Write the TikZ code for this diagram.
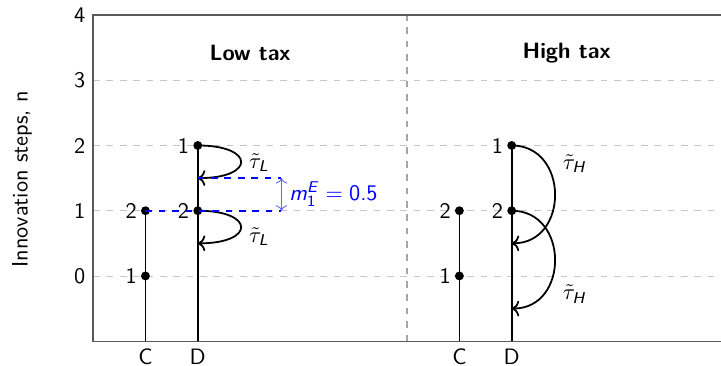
\documentclass[tikz,border=0pt]{standalone}
\usepackage{amsmath}
\usepackage{xcolor}
\usepackage{tikz}
\usetikzlibrary{arrows.meta, positioning, calc}
\newcommand{\sfit}[1]{\textsf{\textit{#1}}}

\begin{document}
\sffamily
\begin{tikzpicture}[x=23.5pt, y=29.3pt,
    dot/.style={circle, fill=black, inner sep=0pt, minimum size=4pt},
    gridline/.style={gray!45, dashed},
    frameline/.style={black!65, semithick},
    stem/.style={line width=0.8pt},
    jump/.style={line width=0.8pt, ->},
    ticklabel/.style={inner sep=1.5pt}]
    \useasboundingbox (-1.78,-1.38) rectangle (12,4.23);

    % Grid and frame
    \foreach \n in {0,...,3}
        \draw[gridline] (0,\n) -- (12,\n);
    \draw[gray!70, dashed, semithick] (6,-1) -- (6,4);
    \draw[frameline] (12,4) -- (0,4) -- (0,-1) -- (12,-1);

    % Axis labels
    \foreach \n in {0,...,4}
        \node[anchor=east] (tick\n) at (0,\n) {\n};
    \node[rotate=90] (ylab) at (-1.36,1.48) {Innovation steps, n};
    \foreach \xpos/\lab/\nm in {1/C/lc, 2/D/ld, 7/C/hc, 8/D/hd}
        \node (\nm lab) at (\xpos,-1.24) {\lab};

    % Panel titles
    \node[font=\bfseries] (lowtitle) at (3,3.42) {Low tax};
    \node[font=\bfseries] (hightitle) at (9.05,3.42) {High tax};

    % Low tax
    \coordinate (lcbot) at (1,-1);
    \coordinate (ldbot) at (2,-1);
    \node[dot] (lc0) at (1,0) {};
    \node[dot] (lc1) at (1,1) {};
    \node[dot] (ld1) at (2,1) {};
    \node[dot] (ld2) at (2,2) {};
    \draw[stem] (lcbot) -- (lc1.center);
    \draw[stem] (ldbot) -- (ld2.center);
    \node[ticklabel, left=0pt of lc0] (lc0l) {1};
    \node[ticklabel, left=0pt of lc1] (lc1l) {2};
    \node[ticklabel, left=0pt of ld1] (ld1l) {2};
    \node[ticklabel, left=0pt of ld2] (ld2l) {1};

    \coordinate (la) at (2,1.5);
    \coordinate (lb) at (2,0.5);
    \draw[jump] (ld2.center) .. controls (3.1,2) and (3.1,1.5) .. (la);
    \draw[jump] (ld1.center) .. controls (3.1,1) and (3.1,0.5) .. (lb);
    \node (taul1) at (3.17,1.74) {$\tilde{\tau}_{\sfit{L}}$};
    \node (taul2) at (3.17,0.6) {$\tilde{\tau}_{\sfit{L}}$};

    % Distance m
    \coordinate (ma) at (3.6,1.5);
    \coordinate (mb) at (3.6,1);
    \coordinate (mmid) at ($(ma)!0.5!(mb)$);
    \draw[blue, dashed, thick] (la) -- (ma);
    \draw[blue, dashed, thick] (lc1.center) -- (mb);
    \draw[blue!60, <->] (ma) -- (mb);
    \node[blue, right=0pt of mmid] (mlab) {$\sfit{m}_{\textsf{1}}^{\sfit{E}} = \textsf{0.5}$};

    % High tax
    \coordinate (hcbot) at (7,-1);
    \coordinate (hdbot) at (8,-1);
    \node[dot] (hc0) at (7,0) {};
    \node[dot] (hc1) at (7,1) {};
    \node[dot] (hd1) at (8,1) {};
    \node[dot] (hd2) at (8,2) {};
    \draw[stem] (hcbot) -- (hc1.center);
    \draw[stem] (hdbot) -- (hd2.center);
    \node[ticklabel, left=0pt of hc0] (hc0l) {1};
    \node[ticklabel, left=0pt of hc1] (hc1l) {2};
    \node[ticklabel, left=0pt of hd1] (hd1l) {2};
    \node[ticklabel, left=0pt of hd2] (hd2l) {1};

    \coordinate (ha) at (8,0.5);
    \coordinate (hb) at (8,-0.5);
    \draw[jump] (hd2.center) .. controls (9.1,2) and (9.1,0.5) .. (ha);
    \draw[jump] (hd1.center) .. controls (9.1,1) and (9.1,-0.5) .. (hb);
    \node (tauh1) at (9.2,1.72) {$\tilde{\tau}_{\sfit{H}}$};
    \node (tauh2) at (9.2,-0.28) {$\tilde{\tau}_{\sfit{H}}$};
\end{tikzpicture}
\end{document}
